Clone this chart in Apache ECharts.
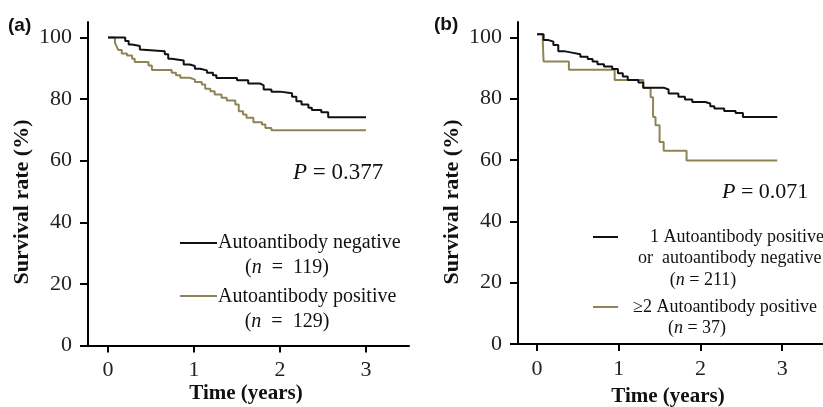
<!DOCTYPE html>
<html>
<head>
<meta charset="utf-8">
<script src="https://cdn.jsdelivr.net/npm/echarts@6/dist/echarts.min.js"></script>
<style>
  html, body { margin: 0; padding: 0; background: #fff; }
  #chart { width: 823px; height: 407px; }
</style>
</head>
<body>
<div id="chart"></div>
<script>
// (a) autoantibody negative / positive
var negTimeA = [0, 0.20, 0.24, 0.28, 0.37, 0.39, 0.66, 0.70, 0.74, 0.88, 0.95, 1.01, 1.07, 1.15, 1.22, 1.26, 1.50, 1.63, 1.77, 1.81, 1.90, 2.00, 2.14, 2.19, 2.25, 2.33, 2.37, 2.48, 2.56, 3.00]
var negSurvA = [100, 98.8, 97.7, 97.2, 96.1, 95.5, 94.5, 93.1, 92.5, 91.2, 90.7, 89.8, 89.3, 88.5, 87.7, 86.8, 86.1, 85.0, 84.4, 83.1, 82.4, 81.9, 80.7, 79.3, 78.2, 77.2, 76.4, 75.7, 74.1, 74.1]
var posTimeA = [0, 0.08, 0.10, 0.12, 0.16, 0.22, 0.28, 0.31, 0.47, 0.51, 0.74, 0.79, 0.84, 0.95, 1.01, 1.09, 1.13, 1.19, 1.24, 1.32, 1.38, 1.48, 1.52, 1.57, 1.61, 1.69, 1.79, 1.83, 1.90, 3.00]
var posSurvA = [100, 98.3, 97.0, 95.9, 94.8, 94.1, 93.1, 92.0, 90.9, 89.4, 88.5, 87.7, 86.9, 86.3, 85.5, 84.7, 83.3, 82.5, 81.5, 80.4, 79.5, 78.2, 76.0, 75.0, 73.9, 72.5, 71.7, 70.6, 69.9, 69.9]

// (b) 1 positive or negative / >=2 positive
var oneTimeB = [0, 0.08, 0.14, 0.20, 0.26, 0.33, 0.41, 0.53, 0.62, 0.68, 0.74, 0.82, 0.92, 0.99, 1.05, 1.11, 1.24, 1.30, 1.55, 1.61, 1.73, 1.81, 1.90, 2.06, 2.12, 2.17, 2.29, 2.43, 2.52, 2.94]
var oneSurvB = [101, 99.1, 98.6, 97.5, 95.5, 95.1, 94.5, 93.7, 92.9, 92.1, 91.2, 90.5, 89.7, 88.3, 87.2, 86.1, 85.3, 83.6, 83.0, 81.7, 80.6, 79.7, 78.9, 78.4, 77.5, 76.8, 76.0, 75.3, 74.0, 74.0]
var twoTimeB = [0, 0.07, 0.08, 0.39, 0.95, 1.30, 1.39, 1.42, 1.45, 1.50, 1.55, 1.83, 2.94]
var twoSurvB = [101, 98.8, 92.1, 89.4, 86.1, 83.5, 80.5, 74.0, 71.3, 65.9, 63.0, 59.8, 59.8]

var xTicks = [0, 1, 2, 3]
var yTicks = [0, 20, 40, 60, 80, 100]

var black = '#111111'
var olive = '#8e8456'
var serif = '"Liberation Serif", "DejaVu Serif", serif'

function pairs(t, s) {
  return t.map(function (v, i) { return [v, s[i]] })
}

function xAxisOf(idx) {
  return {
    type: 'value', gridIndex: idx, min: -0.233, max: 3.5,
    axisLine: { onZero: false, lineStyle: { color: '#000', width: 2 } },
    axisTick: { customValues: xTicks, length: 7, lineStyle: { color: '#000', width: 2 } },
    axisLabel: { customValues: xTicks, margin: 14, fontSize: 22, fontFamily: serif, color: '#222' },
    splitLine: { show: false }
  }
}

function yAxisOf(idx) {
  return {
    type: 'value', gridIndex: idx, min: 0, max: 105,
    axisLine: { show: true, onZero: false, lineStyle: { color: '#000', width: 2 } },
    axisTick: { show: true, customValues: yTicks, length: 8, lineStyle: { color: '#000', width: 2 } },
    axisLabel: { customValues: yTicks, margin: 16, fontSize: 22, fontFamily: serif, color: '#222' },
    splitLine: { show: false }
  }
}

function txt(x, y, text, opts) {
  opts = opts || {}
  return {
    type: 'text', x: x, y: y, rotation: opts.rotation || 0, silent: true,
    style: {
      text: text,
      fontSize: opts.size || 20,
      fontFamily: opts.family || serif,
      fontWeight: opts.weight || 'normal',
      fill: opts.color || '#111',
      align: opts.align || 'left',
      verticalAlign: 'middle',
      rich: { i: { fontStyle: 'italic', fontSize: opts.size || 20, fontFamily: opts.family || serif } }
    }
  }
}

function seg(x1, x2, y, color) {
  return {
    type: 'line', silent: true,
    shape: { x1: x1, y1: y, x2: x2, y2: y },
    style: { stroke: color, lineWidth: 2 }
  }
}

var chart = echarts.init(document.getElementById('chart'))
chart.setOption({
  animation: false,
  backgroundColor: '#fff',
  grid: [
    { left: 88, top: 22, width: 321, height: 323.5 },
    { left: 518, top: 22, width: 321, height: 322 }
  ],
  xAxis: [xAxisOf(0), xAxisOf(1)],
  yAxis: [yAxisOf(0), yAxisOf(1)],
  series: [
    { name: 'Autoantibody negative', type: 'line', step: 'end', xAxisIndex: 0, yAxisIndex: 0, showSymbol: false,
      lineStyle: { color: black, width: 2 }, itemStyle: { color: black }, data: pairs(negTimeA, negSurvA), z: 3 },
    { name: 'Autoantibody positive', type: 'line', step: 'end', xAxisIndex: 0, yAxisIndex: 0, showSymbol: false,
      lineStyle: { color: olive, width: 2 }, itemStyle: { color: olive }, data: pairs(posTimeA, posSurvA), z: 2 },
    { name: '1 Autoantibody positive or autoantibody negative', type: 'line', step: 'end', xAxisIndex: 1, yAxisIndex: 1, showSymbol: false,
      lineStyle: { color: black, width: 2 }, itemStyle: { color: black }, data: pairs(oneTimeB, oneSurvB), z: 3 },
    { name: '≥2 Autoantibody positive', type: 'line', step: 'end', xAxisIndex: 1, yAxisIndex: 1, showSymbol: false,
      lineStyle: { color: olive, width: 2 }, itemStyle: { color: olive }, data: pairs(twoTimeB, twoSurvB), z: 2 }
  ],
  graphic: [
    txt(8, 26, '(a)', { size: 19, weight: 'bold', family: '"Liberation Sans", Arial, sans-serif' }),
    txt(434, 25, '(b)', { size: 19, weight: 'bold', family: '"Liberation Sans", Arial, sans-serif' }),
    txt(22, 202, 'Survival rate (%)', { size: 22, weight: 'bold', align: 'center', rotation: Math.PI / 2 }),
    txt(452, 202, 'Survival rate (%)', { size: 22, weight: 'bold', align: 'center', rotation: Math.PI / 2 }),
    txt(246, 394, 'Time (years)', { size: 21, weight: 'bold', align: 'center' }),
    txt(668, 397, 'Time (years)', { size: 21, weight: 'bold', align: 'center' }),
    txt(293, 173, '{i|P} = 0.377', { size: 23 }),
    txt(722, 192, '{i|P} = 0.071', { size: 22 }),
    // legend (a)
    seg(180, 217, 243, black),
    txt(218, 243, 'Autoantibody negative', { size: 20 }),
    txt(287, 268, '({i|n}  =  119)', { size: 20, align: 'center' }),
    seg(180, 217, 296, olive),
    txt(218, 296.5, 'Autoantibody positive', { size: 20 }),
    txt(287, 321.5, '({i|n}  =  129)', { size: 20, align: 'center' }),
    // legend (b)
    seg(593, 618, 237, black),
    txt(650, 237, '1 Autoantibody positive', { size: 18 }),
    txt(638, 258, 'or  autoantibody negative', { size: 18 }),
    txt(703, 280, '({i|n} = 211)', { size: 18, align: 'center' }),
    seg(593, 618, 307, olive),
    txt(633, 307, '≥2 Autoantibody positive', { size: 18 }),
    txt(697, 328, '({i|n} = 37)', { size: 18, align: 'center' })
  ]
})
</script>
</body>
</html>
